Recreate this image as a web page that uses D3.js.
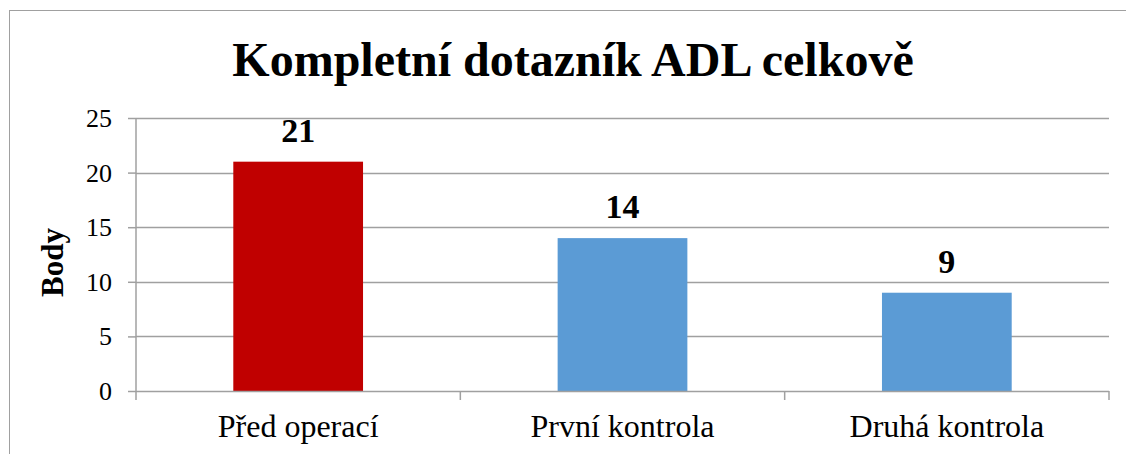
<!DOCTYPE html>
<html>
<head>
<meta charset="utf-8">
<script src="https://cdn.jsdelivr.net/npm/d3@7"></script>
<style>
  body { margin: 0; background: #fff; }
  svg text { font-family: "Liberation Serif", "Times New Roman", serif; fill: #000; }
</style>
</head>
<body>
<div id="chart"></div>
<script>
// chart data
const categories = ['Před operací', 'První kontrola', 'Druhá kontrola'];
const values = [21, 14, 9];
const barColors = ['#C00000', '#5B9BD5', '#5B9BD5'];
const yTicks = [0, 5, 10, 15, 20, 25];
const titleText = 'Kompletní dotazník ADL celkově';
const yTitle = 'Body';

const width = 1126;
const height = 454;
const margin = {top: 118, right: 17, bottom: 63, left: 136};

const svg = d3.select('#chart')
              .append('svg')
              .attr('width', width)
              .attr('height', height);

// outer chart border
svg.append('rect')
   .attr('x', 9.5)
   .attr('y', 10.5)
   .attr('width', width + 10)
   .attr('height', height + 10)
   .attr('fill', 'none')
   .attr('stroke', '#a0a0a0')
   .attr('stroke-width', 1);

const innerW = width - margin.left - margin.right;
const innerH = height - margin.top - margin.bottom;

const g = svg.append('g')
             .attr('transform', `translate(${margin.left}, ${margin.top})`);

const xScale = d3.scaleBand()
                 .domain(categories)
                 .range([0, innerW])
                 .paddingInner(0.6)
                 .paddingOuter(0.3);

const yScale = d3.scaleLinear()
                 .domain([0, 25])
                 .range([innerH, 0]);

// gridlines
g.append('g')
 .selectAll('line')
 .data(yTicks.filter(d => d > 0))
 .join('line')
 .attr('x1', 0)
 .attr('x2', innerW)
 .attr('y1', d => Math.round(yScale(d)) + 0.5)
 .attr('y2', d => Math.round(yScale(d)) + 0.5)
 .attr('stroke', '#a0a0a0')
 .attr('stroke-width', 1.5);

// bars
g.selectAll('.bar')
 .data(values)
 .join('rect')
 .attr('class', 'bar')
 .attr('x', (d, i) => xScale(categories[i]))
 .attr('width', xScale.bandwidth())
 .attr('y', d => yScale(d))
 .attr('height', d => innerH - yScale(d))
 .attr('fill', (d, i) => barColors[i]);

// value labels
g.selectAll('.label')
 .data(values)
 .join('text')
 .attr('class', 'label')
 .attr('x', (d, i) => xScale(categories[i]) + xScale.bandwidth() / 2)
 .attr('y', d => yScale(d) - 20)
 .attr('text-anchor', 'middle')
 .style('font-size', '34px')
 .style('font-weight', 'bold')
 .text(d => d);

// y axis
const yAxis = g.append('g')
               .call(d3.axisLeft(yScale)
                       .tickValues(yTicks)
                       .tickSize(8)
                       .tickPadding(16));
yAxis.select('.domain').attr('stroke', '#a0a0a0').attr('stroke-width', 1.5)
     .attr('d', `M0,${innerH}V0`);
yAxis.selectAll('.tick line').attr('stroke', '#a0a0a0').attr('stroke-width', 1.5);
yAxis.selectAll('.tick text')
     .style('font-size', '26px')
     .attr('x', -24)
     .attr('dy', '0.33em');

// x axis with ticks at category boundaries
const xAxisG = g.append('g')
                .attr('transform', `translate(0, ${innerH})`);
xAxisG.append('line')
      .attr('x1', 0)
      .attr('x2', innerW)
      .attr('y1', 0.5)
      .attr('y2', 0.5)
      .attr('stroke', '#a0a0a0')
      .attr('stroke-width', 1.5);
const step = innerW / categories.length;
xAxisG.selectAll('.xtick')
      .data(d3.range(categories.length + 1))
      .join('line')
      .attr('x1', d => d * step)
      .attr('x2', d => d * step)
      .attr('y1', 0)
      .attr('y2', 9)
      .attr('stroke', '#a0a0a0')
      .attr('stroke-width', 1.5);
xAxisG.selectAll('.xlabel')
      .data(categories)
      .join('text')
      .attr('x', d => xScale(d) + xScale.bandwidth() / 2)
      .attr('y', 46)
      .attr('text-anchor', 'middle')
      .style('font-size', '32px')
      .text(d => d);

// chart title
svg.append('text')
   .attr('x', 573)
   .attr('y', 76)
   .attr('text-anchor', 'middle')
   .style('font-size', '48px')
   .style('font-weight', 'bold')
   .text(titleText);

// y axis title
svg.append('text')
   .attr('transform', `translate(63, ${margin.top + innerH / 2 + 8}) rotate(-90)`)
   .attr('text-anchor', 'middle')
   .style('font-size', '31px')
   .style('font-weight', 'bold')
   .text(yTitle);
</script>
</body>
</html>
